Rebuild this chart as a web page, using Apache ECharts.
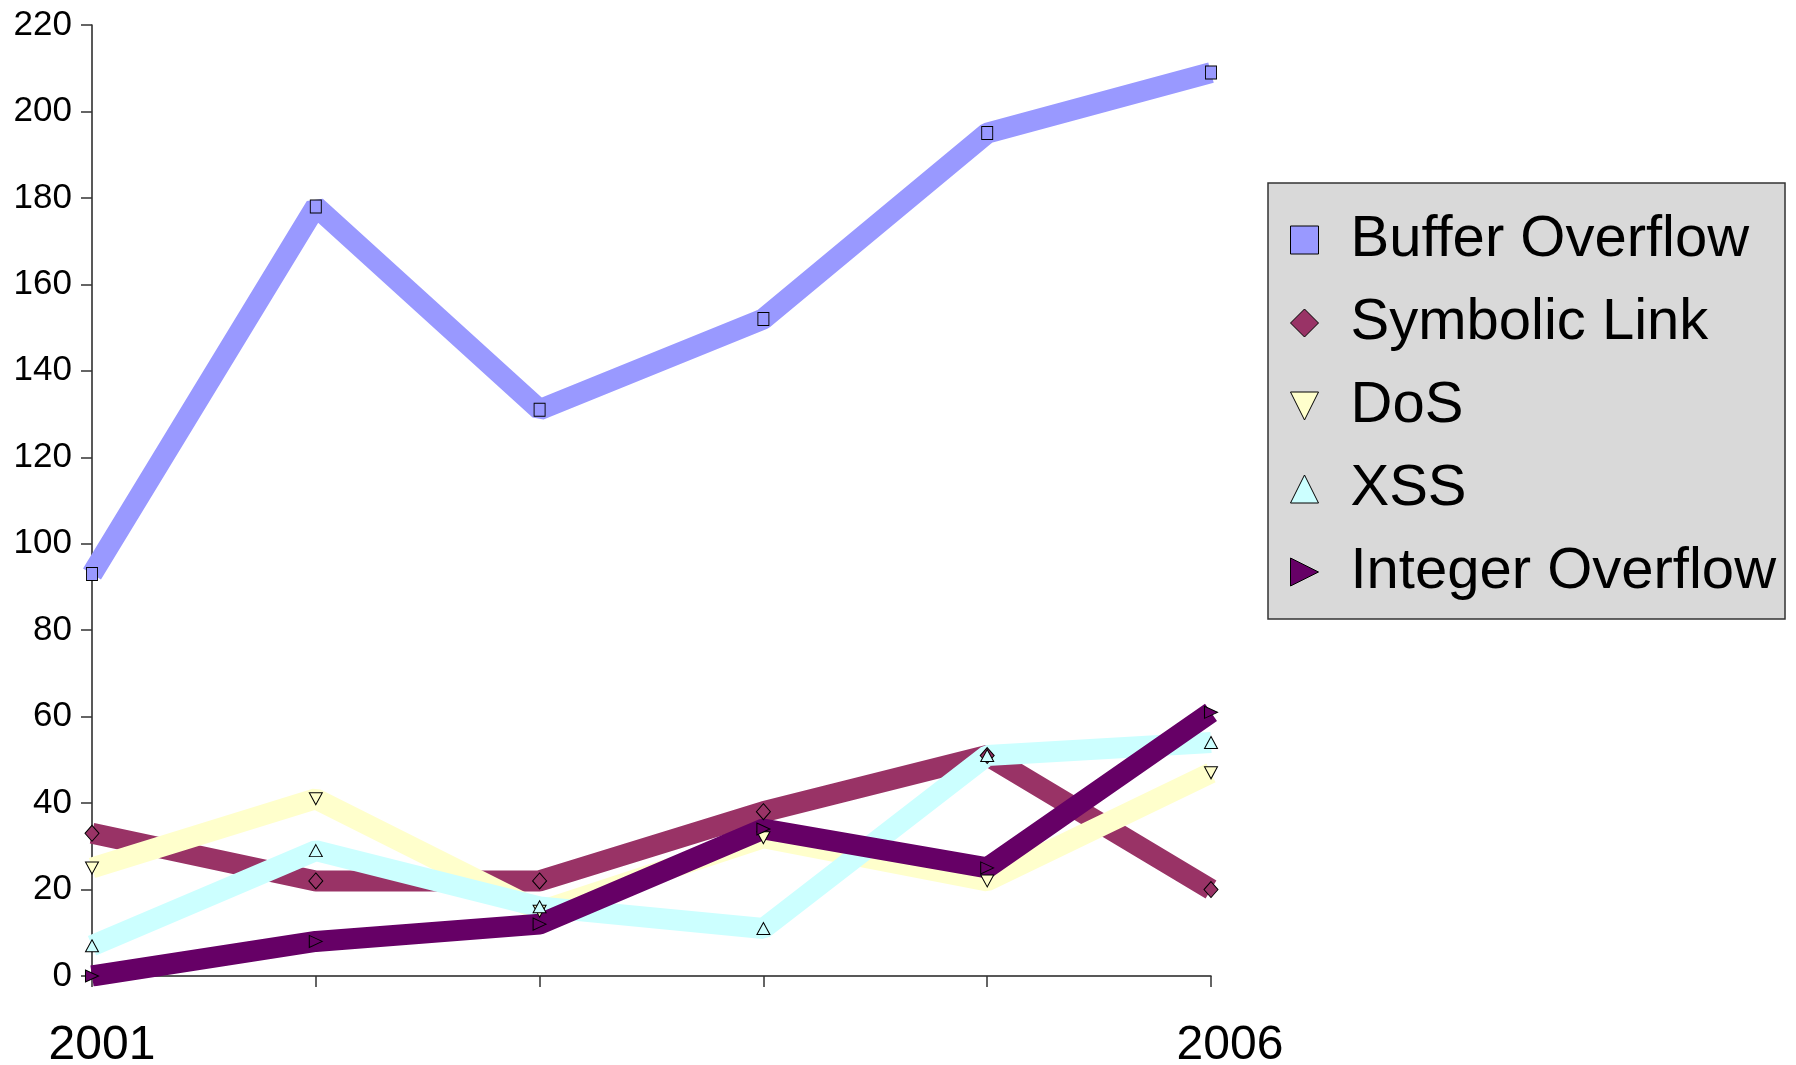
<!DOCTYPE html>
<html>
<head>
<meta charset="utf-8">
<title>Vulnerability reports by type, 2001–2006</title>
<script src="https://cdn.jsdelivr.net/npm/echarts@6/dist/echarts.min.js"></script>
<style>
  html, body { margin: 0; padding: 0; background: #ffffff; }
  #chart { width: 1796px; height: 1065px; }
</style>
</head>
<body>
<div id="chart"></div>
<script>
// Years on the category axis (only the first and last are labelled)
const years = ['2001', '2002', '2003', '2004', '2005', '2006'];

// Yearly counts per vulnerability type
const bufferOverflow  = [93, 178, 131, 152, 195, 209];
const symbolicLink    = [33, 22, 22, 38, 51, 20];
const dos             = [25, 41, 15, 32, 22, 47];
const xss             = [7, 29, 16, 11, 51, 54];
const integerOverflow = [0, 8, 12, 34, 25, 61];

// Value axis range
const yMin = 0, yMax = 220, yStep = 20;

const FONT = '"Liberation Sans", Arial, Helvetica, sans-serif';

function lineSeries(name, data, color, symbol, rotate, size) {
  return {
    name: name,
    type: 'line',
    data: data,
    symbol: symbol,
    symbolSize: size,
    symbolRotate: rotate,
    showAllSymbol: true,
    lineStyle: { color: color, width: 21, join: 'bevel', cap: 'butt' },
    itemStyle: { color: color, borderColor: '#000000', borderWidth: 1 },
    emphasis: { disabled: true },
    animation: false,
    z: 2
  };
}

const chart = echarts.init(document.getElementById('chart'), null, { renderer: 'canvas' });

chart.setOption({
  backgroundColor: '#ffffff',
  animation: false,
  grid: { left: 92, right: 585, top: 25, bottom: 89, containLabel: false, outerBoundsMode: 'none' },
  xAxis: {
    type: 'category',
    data: years,
    boundaryGap: false,
    axisLine: { lineStyle: { color: '#222222', width: 1.5 } },
    axisTick: { show: true, inside: false, length: 11, lineStyle: { color: '#333333', width: 1.5 } },
    axisLabel: {
      interval: 0,
      formatter: function (v, i) {
        if (i === 0) return '{first|' + v + '}';
        if (i === years.length - 1) return '{last|' + v + '}';
        return '';
      },
      color: '#000000',
      margin: 46,
      rich: {
        first: { fontFamily: FONT, fontSize: 48, color: '#000000', padding: [0, 0, 0, 20] },
        last: { fontFamily: FONT, fontSize: 48, color: '#000000', padding: [0, 0, 0, 38] }
      }
    },
    splitLine: { show: false }
  },
  yAxis: {
    type: 'value',
    min: yMin,
    max: yMax,
    interval: yStep,
    axisLine: { show: true, lineStyle: { color: '#222222', width: 1.5 } },
    axisTick: { show: true, length: 11, lineStyle: { color: '#333333', width: 1.5 } },
    axisLabel: {
      fontFamily: FONT,
      fontSize: 35,
      color: '#000000',
      margin: 20
    },
    splitLine: { show: false }
  },
  legend: {
    orient: 'vertical',
    left: 1268,
    top: 183,
    backgroundColor: '#d9d9d9',
    borderColor: '#333333',
    borderWidth: 1.5,
    padding: [27, 9, 17, 22],
    itemGap: 23,
    itemWidth: 28,
    itemHeight: 28,
    itemStyle: { borderColor: '#000000', borderWidth: 1 },
    textStyle: { fontFamily: FONT, fontSize: 58, color: '#000000', lineHeight: 60, padding: [0, 0, 0, 27] },
    data: [
      { name: 'Buffer Overflow', icon: 'rect' },
      { name: 'Symbolic Link', icon: 'diamond' },
      { name: 'DoS', icon: 'path://M0,0 L10,0 L5,10 Z' },
      { name: 'XSS', icon: 'path://M5,0 L10,10 L0,10 Z' },
      { name: 'Integer Overflow', icon: 'path://M0,0 L10,5 L0,10 Z' }
    ]
  },
  series: [
    lineSeries('Buffer Overflow', bufferOverflow, '#9999ff', 'rect', 0, [11, 13]),
    lineSeries('Symbolic Link', symbolicLink, '#993366', 'diamond', 0, [14, 16]),
    lineSeries('DoS', dos, '#ffffcc', 'triangle', 180, [13, 12]),
    lineSeries('XSS', xss, '#ccffff', 'triangle', 0, [13, 12]),
    lineSeries('Integer Overflow', integerOverflow, '#660066', 'triangle', -90, [12, 13])
  ]
});
</script>
</body>
</html>
